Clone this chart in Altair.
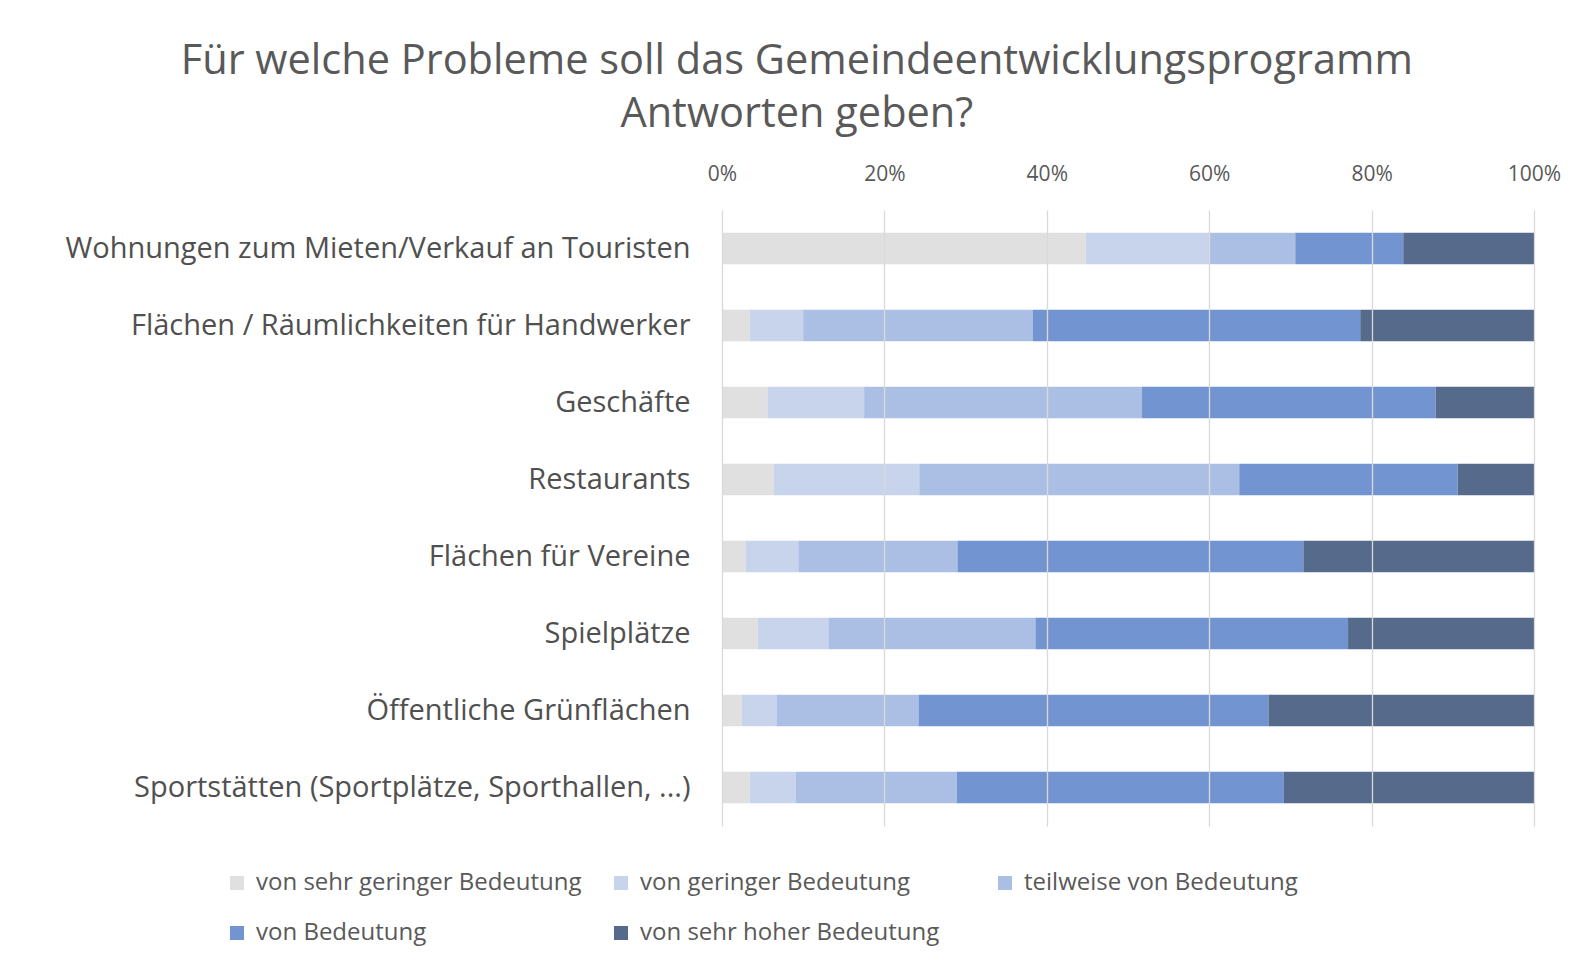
import altair as alt
import pandas as pd

categories = [
    "Wohnungen zum Mieten/Verkauf an Touristen",
    "Flächen / Räumlichkeiten für Handwerker",
    "Geschäfte",
    "Restaurants",
    "Flächen für Vereine",
    "Spielplätze",
    "Öffentliche Grünflächen",
    "Sportstätten (Sportplätze, Sporthallen, ...)",
]
levels = [
    "von sehr geringer Bedeutung",
    "von geringer Bedeutung",
    "teilweise von Bedeutung",
    "von Bedeutung",
    "von sehr hoher Bedeutung",
]
colors = ["#e0e0e0", "#c7d4eb", "#abbfe4", "#7295d2", "#566a8b"]

sehr_gering = [44.8, 3.4, 5.6, 6.4, 2.9, 4.4, 2.4, 3.4]
gering = [15.1, 6.6, 11.9, 17.9, 6.5, 8.7, 4.3, 5.7]
teilweise = [10.7, 28.3, 34.2, 39.4, 19.6, 25.5, 17.5, 19.8]
bedeutung = [13.3, 40.3, 36.2, 26.9, 42.6, 38.5, 43.1, 40.3]
sehr_hoch = [16.1, 21.4, 12.1, 9.4, 28.4, 22.9, 32.7, 30.8]
tick_values = [0, 0.2, 0.4, 0.6, 0.8, 1.0]

series = [sehr_gering, gering, teilweise, bedeutung, sehr_hoch]
rows = []
for li, (lvl, vals) in enumerate(zip(levels, series)):
    for cat, v in zip(categories, vals):
        rows.append({"Kategorie": cat, "Bedeutung": lvl, "Wert": v, "Ordnung": li})
df = pd.DataFrame(rows)

FONT = "Open Sans"

chart = (
    alt.Chart(df)
    .mark_bar()
    .encode(
        y=alt.Y(
            "Kategorie:N",
            sort=categories,
            title=None,
            scale=alt.Scale(paddingInner=0.59, paddingOuter=0.295),
            axis=alt.Axis(
                labelFont=FONT,
                labelFontSize=29,
                labelColor="#505050",
                labelPadding=32,
                labelLimit=900,
                domain=False,
                ticks=False,
                grid=False,
            ),
        ),
        x=alt.X(
            "Wert:Q",
            stack="normalize",
            title=None,
            scale=alt.Scale(domain=[0, 1], nice=False),
            axis=alt.Axis(
                orient="top",
                format=".0%",
                values=tick_values,
                labelFont=FONT,
                labelFontSize=21,
                labelColor="#595959",
                labelPadding=26,
                labelFlush=False,
                domain=False,
                ticks=False,
                grid=True,
                gridColor="#d9d9d9",
                gridWidth=1.3,
                zindex=1,
            ),
        ),
        color=alt.Color(
            "Bedeutung:N",
            sort=levels,
            scale=alt.Scale(domain=levels, range=colors),
            legend=alt.Legend(
                title=None,
                orient="none",
                legendX=-497,
                legendY=661,
                direction="horizontal",
                columns=3,
                gridAlign="all",
                columnPadding=27,
                rowPadding=26,
                symbolType="square",
                symbolSize=196,
                symbolStrokeWidth=0,
                symbolOffset=0,
                labelOffset=7,
                labelFont=FONT,
                labelFontSize=24,
                labelColor="#595959",
                labelLimit=600,
            ),
        ),
        order=alt.Order("Ordnung:Q", sort="ascending"),
    )
    .properties(
        width=812,
        height=616,
        padding={"left": 56, "top": 32, "right": 0, "bottom": 5},
        title=alt.TitleParams(
            text=[
                "Für welche Probleme soll das Gemeindeentwicklungsprogramm",
                "Antworten geben?",
            ],
            font=FONT,
            fontSize=41.5,
            fontWeight="normal",
            color="#595959",
            anchor="middle",
            frame="bounds",
            lineHeight=53,
            offset=28,
            dx=-16,
        ),
    )
    .configure_view(stroke=None)
)

chart.save("out.html", embed_options={"renderer": "svg", "actions": False})
